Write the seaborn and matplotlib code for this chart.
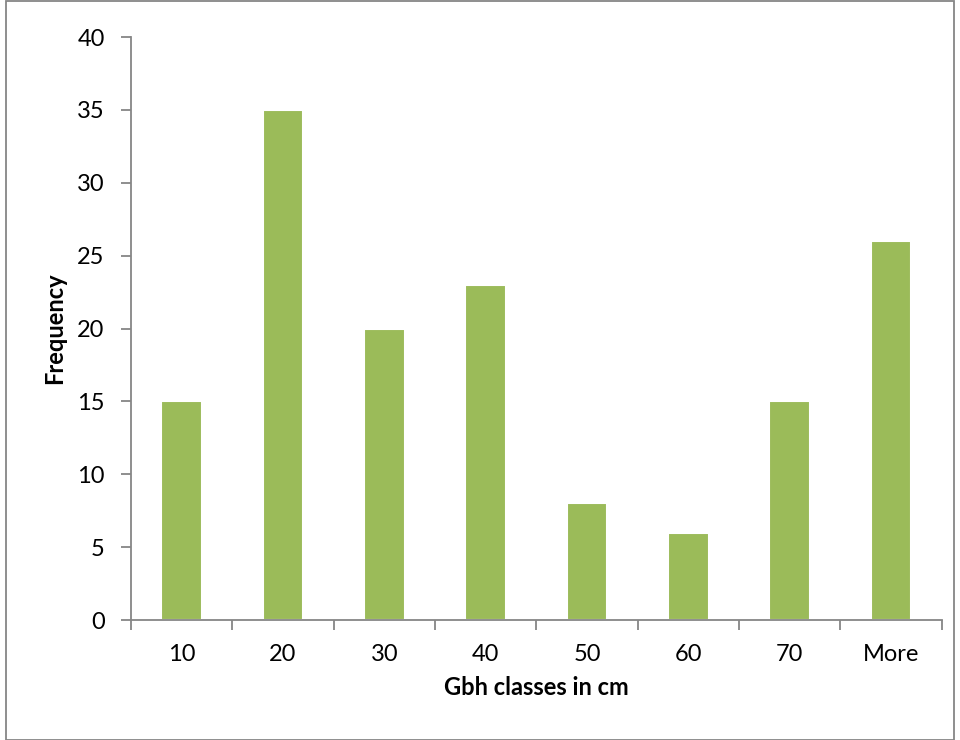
import seaborn as sns
import matplotlib.pyplot as plt
import pandas as pd
from matplotlib.patches import Rectangle

# Data
classes = ['10', '20', '30', '40', '50', '60', '70', 'More']
frequency = [15, 35, 20, 23, 8, 6, 15, 26]

data = pd.DataFrame({'Gbh class': classes, 'Frequency': frequency})

sns.set_style('white')
plt.rcParams['font.family'] = ['Lato', 'DejaVu Sans']

fig = plt.figure(figsize=(9.6, 7.4), dpi=100)
ax = fig.add_axes([0.1365, 0.162, 0.8445, 0.788])

sns.barplot(x='Gbh class', y='Frequency', data=data, color='#9BBB59',
            width=0.4, edgecolor='white', linewidth=1.5, saturation=1, ax=ax)

ax.set_xlim(-0.5, len(classes) - 0.5)
ax.set_ylim(0, 40)
ax.set_yticks(range(0, 41, 5))

gray = '#868686'
for s in ['top', 'right']:
    ax.spines[s].set_visible(False)
for s in ['left', 'bottom']:
    ax.spines[s].set_color(gray)
    ax.spines[s].set_linewidth(1.3)

ax.set_xticks([i - 0.5 for i in range(len(classes) + 1)], minor=True)
ax.tick_params(axis='x', which='major', length=0, labelsize=17, labelcolor='black', pad=17)
ax.tick_params(axis='x', which='minor', length=7, color=gray, width=1.3, direction='out', bottom=True)
ax.tick_params(axis='y', length=7, color=gray, width=1.3, direction='out', left=True,
               labelsize=17, labelcolor='black', pad=12)

ax.set_xlabel('Gbh classes in cm', fontsize=17, fontweight='bold', color='black', labelpad=8)
ax.set_ylabel('Frequency', fontsize=17, fontweight='bold', color='black', labelpad=8)

# Outer chart border
fig.patches.append(Rectangle((0.006, 0.0), 0.988, 0.999, transform=fig.transFigure,
                             fill=False, edgecolor=gray, linewidth=1.3))

fig.savefig('out.png', dpi=100)
